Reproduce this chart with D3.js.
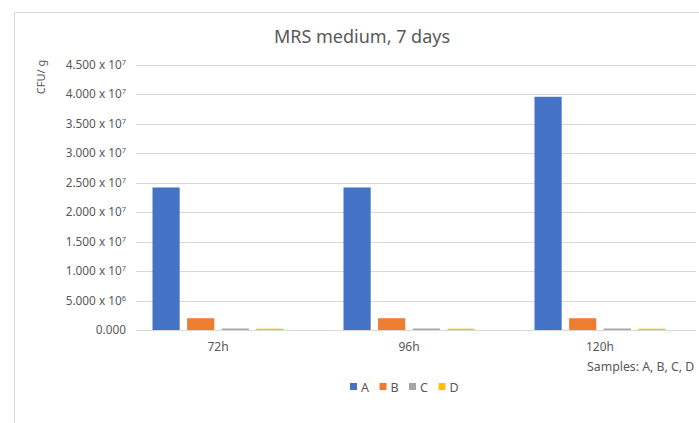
<!DOCTYPE html>
<html>
<head>
<meta charset="utf-8">
<script src="https://cdn.jsdelivr.net/npm/d3@7"></script>
<style>
  body { margin: 0; background: #fff; }
  svg text { font-family: "Noto Sans", "Open Sans", sans-serif; fill: #595959; }
</style>
</head>
<body>
<div id="chart"></div>
<script>
// data
var categories = ['72h', '96h', '120h'];
var seriesKeys = ['A', 'B', 'C', 'D'];
var seriesColors = ['#4472c4', '#ed7d31', '#a5a5a5', '#ffc000'];
var valuesA = [2.42e7, 2.42e7, 3.96e7];
var valuesB = [2.0e6, 2.0e6, 2.0e6];
var valuesC = [2.5e5, 2.5e5, 2.5e5];
var valuesD = [2.2e5, 2.2e5, 2.2e5];
var yTicks = [0, 5e6, 1e7, 1.5e7, 2e7, 2.5e7, 3e7, 3.5e7, 4e7, 4.5e7];

var svg_size = {width: 699, height: 423};
var plot = {left: 136, right: 696, top: 65, bottom: 330};

var svg = d3.select('#chart').append('svg')
  .attr('width', svg_size.width)
  .attr('height', svg_size.height);

// chart frame (cut off right and bottom)
svg.append('path')
  .attr('d', 'M14.5,' + svg_size.height + 'V12.5H' + svg_size.width)
  .attr('fill', 'none')
  .attr('stroke', '#d9d9d9');

var y = d3.scaleLinear().domain([0, 4.5e7]).range([plot.bottom, plot.top]);
var x0 = d3.scaleBand().domain(categories).range([122.5, 695.5]);
var x1 = d3.scaleBand().domain(seriesKeys).range([0, 131]).paddingInner(0.215);

// gridlines
svg.append('g').selectAll('line')
  .data(yTicks)
  .enter().append('line')
  .attr('x1', plot.left).attr('x2', plot.right)
  .attr('y1', function(d){ return Math.round(y(d)) + 0.5; })
  .attr('y2', function(d){ return Math.round(y(d)) + 0.5; })
  .attr('stroke', '#d9d9d9');

// y tick labels like "4.500 x 10^7"
function tickLabel(sel, d) {
  if (d === 0) { sel.text('0.000'); return; }
  var exp = Math.floor(Math.log10(d));
  var mant = d / Math.pow(10, exp);
  sel.append('tspan').text(mant.toFixed(3) + ' x 10');
  sel.append('tspan').attr('dy', -4).attr('font-size', 7.5).text(exp);
}
svg.append('g').selectAll('text')
  .data(yTicks)
  .enter().append('text')
  .attr('x', 126)
  .attr('y', function(d){ return y(d) + 4; })
  .attr('text-anchor', 'end')
  .attr('font-size', 11.8)
  .each(function(d){ tickLabel(d3.select(this), d); });

// bars
var table = categories.map(function(c, i){
  return {cat: c, vals: [valuesA[i], valuesB[i], valuesC[i], valuesD[i]]};
});
var groups = svg.append('g').selectAll('g')
  .data(table)
  .enter().append('g')
  .attr('transform', function(d){ return 'translate(' + (x0(d.cat) + x0.bandwidth() / 2 - 65.5) + ',0)'; });
groups.selectAll('rect')
  .data(function(d){ return d.vals.map(function(v, j){ return {key: seriesKeys[j], v: v, color: seriesColors[j]}; }); })
  .enter().append('rect')
  .attr('x', function(d){ return x1(d.key); })
  .attr('width', x1.bandwidth())
  .attr('y', function(d){ return y(d.v); })
  .attr('height', function(d){ return y(0) - y(d.v); })
  .attr('fill', function(d){ return d.color; });

// category labels
svg.append('g').selectAll('text')
  .data(categories)
  .enter().append('text')
  .attr('x', function(d){ return x0(d) + x0.bandwidth() / 2; })
  .attr('y', 351)
  .attr('text-anchor', 'middle')
  .attr('font-size', 12)
  .text(function(d){ return d; });

// title
svg.append('text')
  .attr('x', 362).attr('y', 43)
  .attr('text-anchor', 'middle')
  .attr('font-size', 18)
  .text('MRS medium, 7 days');

// y axis title
svg.append('text')
  .attr('transform', 'translate(45,77) rotate(-90)')
  .attr('text-anchor', 'middle')
  .attr('font-size', 11)
  .text('CFU/ g');

// x axis title
svg.append('text')
  .attr('x', 587).attr('y', 371)
  .attr('font-size', 12.3)
  .text('Samples: A, B, C, D');

// legend
var legend = svg.append('g').selectAll('g')
  .data(seriesKeys)
  .enter().append('g')
  .attr('transform', function(d, i){ return 'translate(' + (350 + i * 29.5) + ',383)'; });
legend.append('rect')
  .attr('width', 7).attr('height', 7)
  .attr('fill', function(d, i){ return seriesColors[i]; });
legend.append('text')
  .attr('x', 11).attr('y', 8.5)
  .attr('font-size', 12.5)
  .text(function(d){ return d; });
</script>
</body>
</html>
